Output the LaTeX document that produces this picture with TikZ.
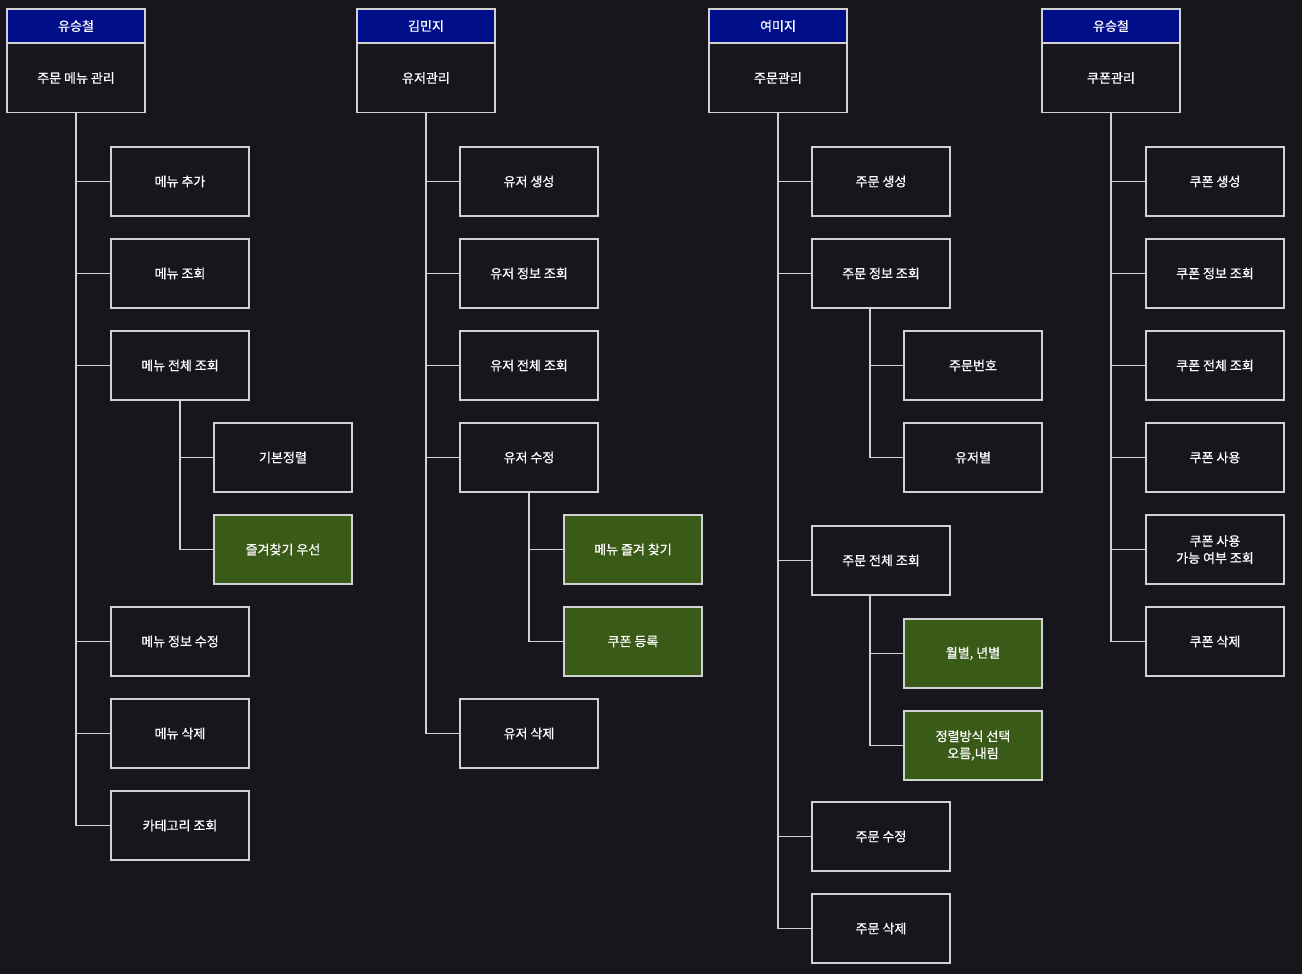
\documentclass[tikz,border=0pt]{standalone}
\usepackage{fontspec}
\setmainfont{Noto Sans CJK KR}[BoldFont={Noto Sans CJK KR},BoldFeatures={FakeBold=0.8}]
\definecolor{bg}{HTML}{18161D}
\definecolor{hdr}{HTML}{000E8A}
\definecolor{grn}{HTML}{3A5A17}
\definecolor{ln}{HTML}{D2D2D2}
\tikzset{
  box/.style={draw=ln, line width=1.1pt, minimum width=138pt, minimum height=69pt, inner sep=0pt, text=white, font=\fontsize{13}{17}\selectfont\bfseries, align=center, fill=bg},
  gbox/.style={box, fill=grn},
  hbox/.style={draw=ln, line width=1.1pt, minimum width=138pt, minimum height=34pt, inner sep=0pt, text=white, font=\fontsize{13}{17}\selectfont\bfseries, fill=hdr},
  conn/.style={draw=ln, line width=1.1pt}
}
\begin{document}
\begin{tikzpicture}[x=1pt,y=-1pt]
\fill[bg] (0,0) rectangle (1302,974);
\useasboundingbox (0,0) rectangle (1302,974);
% column 1
\node[hbox] (h1) at (76,26) {유승철};
\node[box, anchor=north] (r1) at (76,43) {주문 메뉴 관리};
\node[box] (a1) at (180,181.5) {메뉴 추가};
\node[box] (a2) at (180,273.5) {메뉴 조회};
\node[box] (a3) at (180,365.5) {메뉴 전체 조회};
\node[box] (a31) at (283,457.5) {기본정렬};
\node[gbox] (a32) at (283,549.5) {즐겨찾기 우선};
\node[box] (a4) at (180,641.5) {메뉴 정보 수정};
\node[box] (a5) at (180,733.5) {메뉴 삭제};
\node[box] (a6) at (180,825.5) {카테고리 조회};
\draw[conn] (r1.south) -- (r1.south |- a6.west) -- (a6.west);
\foreach \n in {a1,a2,a3,a4,a5} \draw[conn] (r1.south |- \n.west) -- (\n.west);
\draw[conn] (a3.south) -- (a3.south |- a32.west) -- (a32.west);
\draw[conn] (a3.south |- a31.west) -- (a31.west);
% column 2
\node[hbox] (h2) at (426,26) {김민지};
\node[box, anchor=north] (r2) at (426,43) {유저관리};
\node[box] (b1) at (529,181.5) {유저 생성};
\node[box] (b2) at (529,273.5) {유저 정보 조회};
\node[box] (b3) at (529,365.5) {유저 전체 조회};
\node[box] (b4) at (529,457.5) {유저 수정};
\node[gbox] (b41) at (633,549.5) {메뉴 즐겨 찾기};
\node[gbox] (b42) at (633,641.5) {쿠폰 등록};
\node[box] (b5) at (529,733.5) {유저 삭제};
\draw[conn] (r2.south) -- (r2.south |- b5.west) -- (b5.west);
\foreach \n in {b1,b2,b3,b4} \draw[conn] (r2.south |- \n.west) -- (\n.west);
\draw[conn] (b4.south) -- (b4.south |- b42.west) -- (b42.west);
\draw[conn] (b4.south |- b41.west) -- (b41.west);
% column 3
\node[hbox] (h3) at (778,26) {여미지};
\node[box, anchor=north] (r3) at (778,43) {주문관리};
\node[box] (c1) at (881,181.5) {주문 생성};
\node[box] (c2) at (881,273.5) {주문 정보 조회};
\node[box] (c21) at (973,365.5) {주문번호};
\node[box] (c22) at (973,457.5) {유저별};
\node[box] (c3) at (881,560.5) {주문 전체 조회};
\node[gbox] (c31) at (973,653.5) {월별, 년별};
\node[gbox] (c32) at (973,745.5) {정렬방식 선택\\오름,내림};
\node[box] (c4) at (881,836.5) {주문 수정};
\node[box] (c5) at (881,928.5) {주문 삭제};
\draw[conn] (r3.south) -- (r3.south |- c5.west) -- (c5.west);
\foreach \n in {c1,c2,c3,c4} \draw[conn] (r3.south |- \n.west) -- (\n.west);
\draw[conn] ([xshift=-11pt]c2.south) -- ([xshift=-11pt]c2.south |- c22.west) -- (c22.west);
\draw[conn] ([xshift=-11pt]c2.south |- c21.west) -- (c21.west);
\draw[conn] ([xshift=-11pt]c3.south) -- ([xshift=-11pt]c3.south |- c32.west) -- (c32.west);
\draw[conn] ([xshift=-11pt]c3.south |- c31.west) -- (c31.west);
% column 4
\node[hbox] (h4) at (1111,26) {유승철};
\node[box, anchor=north] (r4) at (1111,43) {쿠폰관리};
\node[box] (d1) at (1215,181.5) {쿠폰 생성};
\node[box] (d2) at (1215,273.5) {쿠폰 정보 조회};
\node[box] (d3) at (1215,365.5) {쿠폰 전체 조회};
\node[box] (d4) at (1215,457.5) {쿠폰 사용};
\node[box] (d5) at (1215,549.5) {쿠폰 사용\\가능 여부 조회};
\node[box] (d6) at (1215,641.5) {쿠폰 삭제};
\draw[conn] (r4.south) -- (r4.south |- d6.west) -- (d6.west);
\foreach \n in {d1,d2,d3,d4,d5} \draw[conn] (r4.south |- \n.west) -- (\n.west);
\end{tikzpicture}
\end{document}
